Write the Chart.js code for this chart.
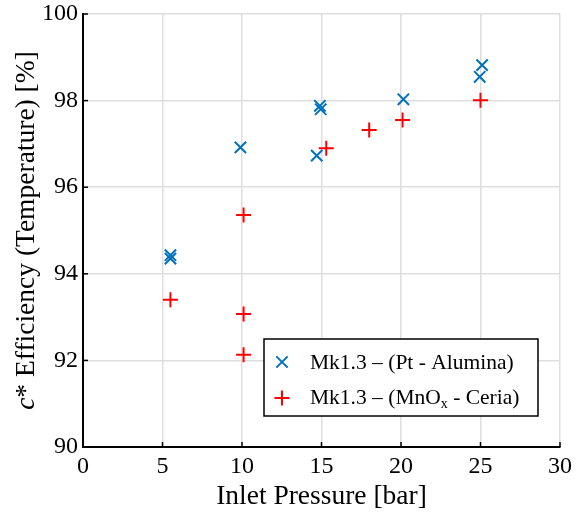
<!DOCTYPE html>
<html>
<head>
<meta charset="utf-8">
<script src="https://cdn.jsdelivr.net/npm/chart.js@4.4.1/dist/chart.umd.min.js"></script>
<style>
  html, body { margin: 0; padding: 0; background: #fff; }
  #wrap { width: 577px; height: 520px; }
</style>
</head>
<body>
<div id="wrap"><canvas id="myChart" width="577" height="520"></canvas></div>
<script>
// Pt - Alumina catalyst
const ptPressure = [5.5, 5.5, 9.9, 14.7, 14.9, 14.95, 20.15, 24.95, 25.1];
const ptEff = [94.43, 94.35, 96.92, 96.73, 97.88, 97.80, 98.03, 98.55, 98.82];
// MnOx - Ceria catalyst
const mnPressure = [5.5, 10.1, 10.1, 10.1, 15.3, 18.0, 20.1, 25.0];
const mnEff = [93.40, 95.36, 93.07, 92.13, 96.90, 97.32, 97.55, 98.01];

const xTicks = [0, 5, 10, 15, 20, 25, 30];
const yTicks = [90, 92, 94, 96, 98, 100];

const blue = '#0072BD';
const red = '#FF0000';
const serif = '"Liberation Serif", "Times New Roman", serif';

function toPoints(xs, ys) {
    return xs.map((x, i) => ({ x: x, y: ys[i] }));
}

// inward tick marks, axis titles and legend box
const extras = {
    id: 'extras',
    afterDraw(chart) {
        const ctx = chart.ctx;
        const xs = chart.scales.x;
        const ys = chart.scales.y;
        const area = chart.chartArea;
        ctx.save();
        ctx.strokeStyle = '#000';
        ctx.lineWidth = 1.5;
        xTicks.forEach(v => {
            const px = xs.getPixelForValue(v);
            ctx.beginPath();
            ctx.moveTo(px, area.bottom);
            ctx.lineTo(px, area.bottom - 5);
            ctx.stroke();
        });
        yTicks.forEach(v => {
            const py = ys.getPixelForValue(v);
            ctx.beginPath();
            ctx.moveTo(area.left, py);
            ctx.lineTo(area.left + 5, py);
            ctx.stroke();
        });

        // x title
        ctx.fillStyle = '#000';
        ctx.font = '27.5px ' + serif;
        ctx.textAlign = 'center';
        ctx.textBaseline = 'middle';
        ctx.fillText('Inlet Pressure [bar]', (area.left + area.right) / 2, 497);

        // y title with italic c
        ctx.save();
        ctx.translate(27, (area.top + area.bottom) / 2);
        ctx.rotate(-Math.PI / 2);
        ctx.textAlign = 'left';
        const rest = '* Efficiency (Temperature) [%]';
        ctx.font = 'italic 27.5px ' + serif;
        const wc = ctx.measureText('c').width;
        ctx.font = '27.5px ' + serif;
        const wr = ctx.measureText(rest).width;
        const start = -(wc + wr) / 2;
        ctx.font = 'italic 27.5px ' + serif;
        ctx.fillText('c', start, 0);
        ctx.font = '27.5px ' + serif;
        ctx.fillText(rest, start + wc, 0);
        ctx.restore();

        // legend
        const lx = 264, ly = 339, lw = 274, lh = 77;
        ctx.fillStyle = '#fff';
        ctx.fillRect(lx, ly, lw, lh);
        ctx.strokeStyle = '#000';
        ctx.lineWidth = 1.5;
        ctx.strokeRect(lx, ly, lw, lh);

        ctx.lineWidth = 2;
        ctx.strokeStyle = blue;
        Chart.helpers.drawPoint(ctx, { pointStyle: 'crossRot', radius: 8, rotation: 0, borderWidth: 2 }, 282, 362);
        ctx.strokeStyle = red;
        Chart.helpers.drawPoint(ctx, { pointStyle: 'cross', radius: 7.5, rotation: 0, borderWidth: 2 }, 282, 398);

        ctx.fillStyle = '#000';
        ctx.textAlign = 'left';
        ctx.textBaseline = 'middle';
        ctx.font = '21.5px ' + serif;
        ctx.fillText('Mk1.3 \u2013 (Pt - Alumina)', 310, 363);
        let t = 'Mk1.3 \u2013 (MnO';
        ctx.fillText(t, 310, 398);
        let cx = 310 + ctx.measureText(t).width;
        ctx.font = '14px ' + serif;
        ctx.fillText('x', cx, 404);
        cx += ctx.measureText('x').width;
        ctx.font = '21.5px ' + serif;
        ctx.fillText(' - Ceria)', cx, 398);
        ctx.restore();
    }
};

const ctx = document.getElementById('myChart').getContext('2d');
const myChart = new Chart(ctx, {
    type: 'scatter',
    data: {
        datasets: [{
            label: 'Mk1.3 \u2013 (Pt - Alumina)',
            data: toPoints(ptPressure, ptEff),
            pointStyle: 'crossRot',
            pointRadius: 8,
            borderColor: blue,
            backgroundColor: blue,
            borderWidth: 2,
            pointHoverRadius: 8
        }, {
            label: 'Mk1.3 \u2013 (MnOx - Ceria)',
            data: toPoints(mnPressure, mnEff),
            pointStyle: 'cross',
            pointRadius: 7.5,
            borderColor: red,
            backgroundColor: red,
            borderWidth: 2,
            pointHoverRadius: 7.5
        }]
    },
    options: {
        responsive: false,
        animation: false,
        devicePixelRatio: 1,
        layout: { padding: { top: 14, right: 17, left: 0, bottom: 0 } },
        scales: {
            x: {
                type: 'linear',
                min: 0,
                max: 30,
                afterFit: s => { s.height = 73; s.paddingLeft = 0; s.paddingRight = 0; },
                afterBuildTicks: s => { s.ticks = xTicks.map(v => ({ value: v })); },
                ticks: {
                    padding: 5,
                    color: '#000',
                    font: { family: serif, size: 24 }
                },
                grid: { color: '#dedede', lineWidth: 1.5, drawTicks: false },
                border: { color: '#000', width: 2 }
            },
            y: {
                type: 'linear',
                min: 90,
                max: 100,
                afterFit: s => { s.width = 83; s.paddingTop = 0; s.paddingBottom = 0; },
                afterBuildTicks: s => { s.ticks = yTicks.map(v => ({ value: v })); },
                ticks: {
                    padding: 5,
                    color: '#000',
                    font: { family: serif, size: 24 }
                },
                grid: { color: '#dedede', lineWidth: 1.5, drawTicks: false },
                border: { color: '#000', width: 2 }
            }
        },
        plugins: {
            legend: { display: false },
            tooltip: { enabled: false }
        }
    },
    plugins: [extras]
});
</script>
</body>
</html>
